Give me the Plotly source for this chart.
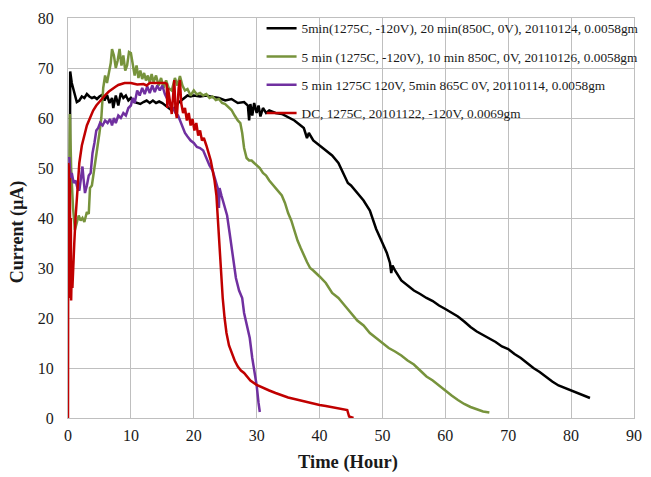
import plotly.graph_objects as go

# ---- Data ----
black_t = [0.3, 0.35, 0.6, 1.0, 1.4, 1.8, 2.2, 2.6, 3.0, 3.4, 3.8, 4.2, 4.6, 5.0, 5.4, 5.8, 6.2, 6.6, 7.0, 7.2,
           7.6, 8.0, 8.4, 8.8, 9.2, 9.6, 10.0, 10.5, 11, 11.5, 12, 12.5, 13, 13.5, 14, 14.5, 15, 15.5, 16, 16.5,
           17, 17.5, 18, 18.5, 19, 19.5, 20, 21, 22, 23, 24, 25, 26, 27, 28, 28.6, 28.8, 29, 29.3, 29.6,
           30, 30.3, 30.6, 31, 31.5, 32, 33, 34, 35, 36, 37, 37.5, 38, 38.3, 39, 40, 41, 42, 43, 44,
           44.5, 45, 46, 47, 48, 48.5, 49, 50, 50.7, 51.2, 51.4, 51.6, 52, 53, 54, 55, 56, 57, 58, 59,
           60, 61, 62, 63, 64, 65, 66, 67, 68, 69, 70, 71, 72, 73, 74, 75, 76, 77, 78, 79,
           80, 81, 82, 83]
black_i = [50, 69.3, 67, 65, 63.2, 63.5, 64.3, 64, 64.8, 64.3, 64, 64.2, 63.8, 64.3, 64.6, 63.5, 64.6, 63, 64, 62,
           64.5, 62.5, 65, 64, 64.5, 63.5, 64, 63.2, 63, 62.8, 63.2, 63.5, 63, 63.5, 63, 63.3, 63, 62.5, 62, 61.5,
           62, 63, 63.5, 64, 64.5, 64.3, 64.5, 64.3, 64.5, 64.2, 64, 63.5, 63.8, 63, 63.2, 62.5, 59.5, 62.8, 60.5, 63,
           61, 62.5, 60.3, 62, 61, 61.5, 61, 60.8, 60.2, 59.5, 58.5, 58, 56, 57, 55.5, 54.5, 53.5, 52.5, 51, 48.5,
           47, 46.5, 45, 43.5, 41.5, 39.5, 37.8, 35, 33, 31, 29, 30.5, 29.5, 27.5, 26.5, 25.5, 24.8, 24, 23.4, 22.5,
           21.8, 21, 20.3, 19.3, 18.2, 17.3, 16.6, 15.8, 15.2, 14.3, 13.8, 12.8, 12, 11, 10, 9.2, 8.2, 7.3, 6.5, 6,
           5.5, 5, 4.5, 4]

green_t = [0.25, 0.3, 0.5, 0.8, 1.1, 1.4, 1.7, 2.0, 2.3, 2.6, 3.0, 3.3, 3.5, 3.8, 4.2, 4.6, 5.0, 5.3, 5.6, 5.9,
           6.2, 6.5, 6.8, 7.0, 7.3, 7.6, 7.9, 8.2, 8.5, 8.8, 9.1, 9.4, 9.7, 10.0, 10.3, 10.6, 10.9, 11.2, 11.5, 11.8,
           12.1, 12.4, 12.7, 13.0, 13.3, 13.6, 14.0, 14.4, 14.8, 15.2, 15.6, 16.0, 16.5, 17.0, 17.4, 17.8, 18.2, 18.6, 19.0, 19.5,
           20, 20.5, 21, 21.5, 22, 22.5, 23, 23.5, 24, 24.5, 25, 25.5, 26, 26.5, 27, 27.4, 27.7, 28, 28.4, 28.8,
           29.2, 29.6, 30, 30.5, 31, 31.5, 32, 33, 34, 34.5, 35, 35.5, 36, 36.5, 37, 37.5, 38, 38.5, 39, 40,
           41, 42, 43, 44, 45, 46, 47, 48, 49, 50, 51, 52, 53, 54, 55, 56, 57, 58, 59, 60,
           61, 62, 63, 64, 65, 66, 67]
green_i = [52, 60.8, 50, 42, 37.6, 39, 40.5, 39.5, 40, 39.2, 41.2, 40.8, 46, 46.5, 50, 52.5, 57, 60, 66, 68.5,
           67, 69, 71, 73.8, 72.5, 70, 71.5, 73.8, 70.5, 72.5, 69.5, 70.5, 73.2, 73, 70.5, 68.5, 70.5, 68, 69.5, 67.8,
           69, 67.5, 68.5, 67, 68.8, 67.2, 68.5, 66.5, 68, 66, 67.5, 66, 65.5, 68, 66.5, 68.4, 66.5, 65.5, 65.8, 64.5,
           65.5, 64.7, 65, 64.5, 64.8, 64, 64.3, 63.6, 63.8, 63, 62.8, 62.2, 61.6, 60.5, 59.5, 59, 57, 54, 52, 51.5,
           51.5, 51, 50.5, 50, 49, 48.5, 47.5, 46, 44.5, 43, 41, 39.5, 37.5, 35.5, 34, 32.5, 31.2, 30, 29.5, 28.3,
           27, 25, 24, 22.5, 21, 19.5, 18.5, 17, 16, 15, 14, 13.3, 12.5, 11.5, 10.7, 9.5, 8.3, 7.5, 6.5, 5.4,
           4.5, 3.6, 2.8, 2.2, 1.7, 1.3, 1.1]

purple_t = [0.2, 0.4, 0.6, 0.9, 1.2, 1.5, 1.8, 2.1, 2.3, 2.5, 2.7, 3.0, 3.3, 3.6, 3.9, 4.2, 4.5, 4.8, 5.1, 5.5,
            5.9, 6.3, 6.7, 7.0, 7.3, 7.6, 8.0, 8.4, 8.8, 9.2, 9.6, 10.0, 10.3, 10.6, 11.0, 11.4, 11.8, 12.2, 12.6, 13.0,
            13.4, 13.8, 14.2, 14.6, 15.0, 15.4, 15.7, 16.0, 16.4, 16.7, 17.1, 17.5, 17.8, 18.2, 18.6, 19, 19.5, 20, 20.5, 21,
            21.5, 22, 22.5, 23, 23.5, 23.8, 24.0, 24.1, 24.4, 24.8, 25.3, 25.7, 26.2, 26.7, 27.2, 27.7, 28.0, 28.5, 28.9, 29.3,
            29.7, 30.0, 30.3, 30.5]
purple_i = [52.2, 48, 49, 47, 47.5, 46, 45.5, 49, 50.3, 47.5, 45, 46.5, 48.5, 49, 53, 55, 57.5, 58, 59, 58.5,
            59.5, 59, 59.8, 58.5, 60, 59, 60.5, 60, 61, 60.5, 62, 62.5, 64, 63, 65.5, 64.5, 66, 64.8, 66.3, 65,
            66.5, 65.2, 66.5, 65.5, 66.5, 64.8, 64, 63.5, 62.2, 62, 61, 60.5, 59.5, 58, 57, 56.3, 55.5, 55, 54.2, 54,
            53.5, 52, 50.5, 49.5, 47.5, 46, 42, 46, 44.5, 42.5, 40.5, 37, 32, 28, 25.5, 24, 21, 18.5, 16, 12,
            9, 6.5, 3, 1.2]

red_t = [0.0, 0.05, 0.1, 0.15, 0.2, 0.3, 0.35, 0.45, 0.5, 0.6, 0.7, 0.8, 1.0, 1.2, 1.5, 1.8, 2.2, 2.6, 3.0, 3.5,
         4.0, 4.5, 5.0, 5.5, 6.0, 6.5, 7.0, 7.5, 8.0, 8.5, 9.0, 10, 11, 12, 12.5, 13, 14, 15, 15.5, 15.7,
         15.8, 15.9, 16.2, 16.5, 16.9, 17.1, 17.3, 17.6, 17.8, 18.0, 18.3, 18.6, 18.9, 19.2, 19.5, 19.8, 20.1, 20.4, 20.7, 21.0,
         21.3, 21.6, 22.0, 22.4, 22.7, 23.0, 23.3, 23.6, 23.8, 24.0, 24.2, 24.4, 24.6, 24.9, 25.2, 25.6, 26.0, 26.5, 27, 27.5,
         28, 29, 30, 31, 32, 33, 34, 35, 36, 37, 38, 39, 40, 41, 42, 43, 44, 44.4, 44.7, 45, 45.4]
red_i = [0, 51, 30, 50, 25, 48, 24, 40, 23.5, 30, 26, 30, 35, 40, 46, 51, 54.5, 56.8, 58.5, 60,
         61.5, 62.5, 63.3, 64, 64.7, 65.3, 65.8, 66.2, 66.6, 66.8, 67, 67, 66.7, 66.8, 66.5, 67, 67, 67, 67, 66.8,
         62, 66, 63, 60.8, 67.6, 61.5, 60, 66, 67.6, 63, 61, 62, 59.5, 61, 58.5, 59.8, 57.5, 59, 56.5, 57.5,
         55.5, 56, 54.5, 53, 51.5, 49.5, 47.5, 44.5, 40, 36, 32, 28, 24, 20, 17, 14.5, 13, 11.5, 10.3, 9.5,
         9, 7.5, 6.6, 6, 5.5, 5, 4.5, 4.1, 3.8, 3.5, 3.1, 2.8, 2.6, 2.4, 2.2, 2, 1.8, 1.6, 0.3, 0.1, 0]

series_names = [
    "5min(1275C, -120V), 20 min(850C, 0V), 20110124, 0.0058gm",
    "5 min (1275C, -120V), 10 min 850C, 0V, 20110126, 0.0058gm",
    "5 min 1275C 120V, 5min 865C 0V, 20110114, 0.0058gm",
    "DC, 1275C, 20101122, -120V, 0.0069gm",
]
series_colors = ["#000000", "#77933C", "#7030A0", "#C00000"]

x_ticks = [0, 10, 20, 30, 40, 50, 60, 70, 80, 90]
y_ticks = [0, 10, 20, 30, 40, 50, 60, 70, 80]
x_title = "Time (Hour)"
y_title = "Current (µA)"

FONT = "Liberation Serif"
TXT = "#1a1a1a"

fig = go.Figure()
for k, (t, i) in enumerate([(black_t, black_i), (green_t, green_i), (purple_t, purple_i), (red_t, red_i)]):
    fig.add_trace(go.Scatter(
        x=t, y=i, mode="lines", name=series_names[k], legendgroup=str(k),
        line=dict(color=series_colors[k], width=2.5),
    ))

fig.add_annotation(text="<b>%s</b>" % x_title, xref="paper", yref="paper", x=0.495, y=-0.11,
                   xanchor="center", yanchor="middle", showarrow=False,
                   font=dict(family=FONT, size=18.5, color=TXT))
fig.add_annotation(text="<b>%s</b>" % y_title, xref="paper", yref="paper", x=-0.088, y=0.465,
                   xanchor="center", yanchor="middle", showarrow=False, textangle=-90,
                   font=dict(family=FONT, size=18, color=TXT))

fig.update_layout(
    width=651, height=477,
    margin=dict(l=60, r=25, t=10, b=67, autoexpand=False),
    paper_bgcolor="white", plot_bgcolor="white",
    font=dict(family=FONT, size=14, color=TXT),
    showlegend=True,
    legend=dict(
        x=0.342, y=1.0125, xanchor="left", yanchor="top",
        bgcolor="rgba(0,0,0,0)", font=dict(family=FONT, size=13.3, color=TXT),
        tracegroupgap=8, traceorder="grouped",
    ),
    xaxis=dict(
        range=[0, 90], tickvals=x_ticks, ticks="outside", ticklen=3, tickcolor="rgba(0,0,0,0)",
        showgrid=True, gridcolor="#bfbfbf", gridwidth=1,
        showline=True, linecolor="#bfbfbf", linewidth=1, zeroline=False, mirror=True,
        tickfont=dict(family=FONT, size=16, color=TXT),
    ),
    yaxis=dict(
        range=[0, 80], tickvals=y_ticks, ticks="outside", ticklen=10, tickcolor="rgba(0,0,0,0)",
        showgrid=True, gridcolor="#bfbfbf", gridwidth=1,
        showline=True, linecolor="#bfbfbf", linewidth=1, zeroline=False, mirror=True,
        tickfont=dict(family=FONT, size=16, color=TXT),
    ),
)

fig.write_html("out.html")
